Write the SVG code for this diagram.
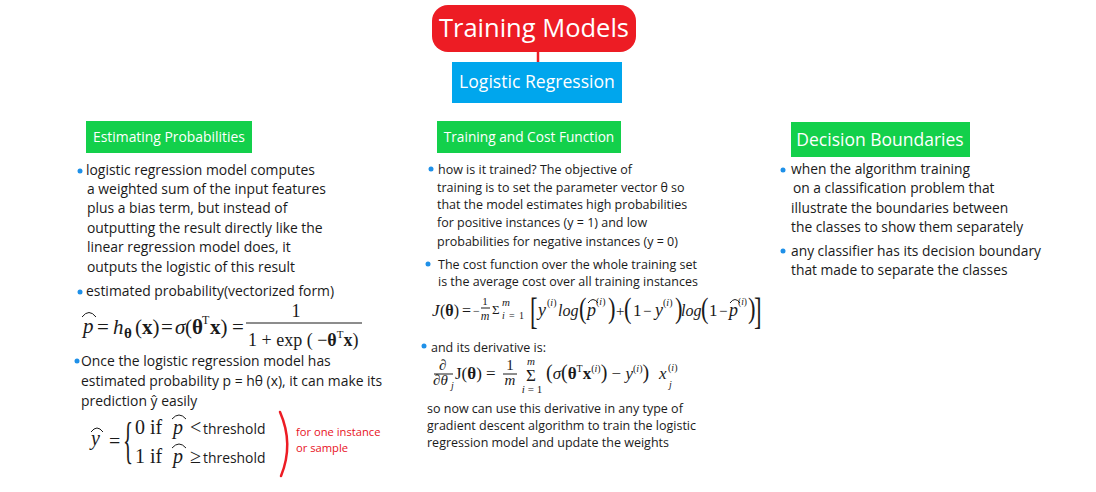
<svg xmlns="http://www.w3.org/2000/svg" width="1096" height="492" viewBox="0 0 1096 492">
<style>
.t{font-family:"Open Sans","Noto Sans",sans-serif;font-size:13.9px;fill:#1a1a1a}
.tr{font-family:"Open Sans","Noto Sans",sans-serif;font-size:13.8px;fill:#1a1a1a}
.tm{font-family:"Open Sans","Noto Sans",sans-serif;font-size:12.5px;fill:#1a1a1a}
.m{font-family:"Liberation Serif",serif;fill:#1a1a1a}
.i{font-style:italic}
.b{font-weight:bold}
.dot{fill:#1e90e8}
.hd{font-family:"Open Sans","Noto Sans",sans-serif;fill:#fff}
.hat{fill:none;stroke:#1a1a1a;stroke-width:1}
.bar{stroke:#1a1a1a;stroke-width:1}
.note{font-family:"Open Sans","Noto Sans",sans-serif;font-size:11.2px;fill:#e81123}
</style>
<rect width="1096" height="492" fill="#fff"/>
<g id="connectors">
<line x1="538" y1="50" x2="538" y2="63" stroke="#ed1c24" stroke-width="2.5"/>
</g>
<g id="root">
<rect x="432" y="5" width="204" height="47" rx="16" fill="#ed1c24"/>
<text class="hd" x="534" y="37" font-size="25.5" text-anchor="middle">Training Models</text>
</g>
<g id="logistic">
<rect x="452" y="62" width="170" height="41" fill="#00a6ed"/>
<text class="hd" x="537" y="88" font-size="17.6" text-anchor="middle">Logistic Regression</text>
</g>
<g id="estimating">
<rect x="86" y="121" width="166" height="32" fill="#13d04b"/>
<text class="hd" x="169" y="142" font-size="13.9" text-anchor="middle">Estimating Probabilities</text>
<circle class="dot" cx="80" cy="171" r="2.5"/>
<text class="t" x="86" y="175">logistic regression model computes</text>
<text class="t" x="87" y="194">a weighted sum of the input features</text>
<text class="t" x="87" y="213">plus a bias term, but instead of</text>
<text class="t" x="87" y="233">outputting the result directly like the</text>
<text class="t" x="87" y="252">linear regression model does, it</text>
<text class="t" x="87" y="272">outputs the logistic of this result</text>
<circle class="dot" cx="80" cy="292" r="2.5"/>
<text class="t" x="86" y="296">estimated probability(vectorized form)</text>
<g id="formula-prob">
<text class="m i" x="83" y="333" font-size="21">p</text>
<path class="hat" d="M82,317 Q89,308 96,317"/>
<text class="m" x="97" y="334" font-size="21">=</text>
<text class="m i" x="113" y="334" font-size="21">h</text>
<text class="m b" x="124" y="338" font-size="15">θ</text>
<text class="m" x="135" y="334" font-size="21">(<tspan class="b">x</tspan>)</text>
<text class="m" x="161" y="334" font-size="21">=</text>
<text class="m i" x="175" y="334" font-size="21">σ</text>
<text class="m" x="185" y="334" font-size="21">(<tspan class="b">θ</tspan></text>
<text class="m" x="202" y="324" font-size="12">T</text>
<text class="m" x="210" y="334" font-size="21"><tspan class="b">x</tspan>)</text>
<text class="m" x="232" y="334" font-size="21">=</text>
<line class="bar" x1="246" y1="323" x2="362" y2="323"/>
<text class="m" x="296" y="317" font-size="18" text-anchor="middle">1</text>
<text class="m" x="248" y="346" font-size="18">1 +  exp ( −<tspan class="b">θ</tspan><tspan font-size="11" dy="-8">T</tspan><tspan class="b" dy="8">x</tspan>)</text>
</g>
<circle class="dot" cx="77" cy="361" r="2.5"/>
<text class="t" x="81" y="366">Once the logistic regression model has</text>
<text class="t" x="81" y="386">estimated probability p = hθ (x), it can make its</text>
<text class="t" x="81" y="406">prediction ŷ easily</text>
<g id="formula-pred">
<text class="m i" x="91" y="445" font-size="20">y</text>
<path class="hat" d="M91,432 Q97,424 103,432"/>
<text class="m" x="109" y="448" font-size="20">=</text>
<text class="m" x="0" y="0" font-size="50" transform="translate(123,457) scale(0.42,1)">{</text>
<text class="m" x="135" y="434" font-size="20">0  if</text>
<text class="m i" x="173" y="434" font-size="20">p</text>
<path class="hat" d="M172,419 Q179,411 186,419"/>
<text class="m" x="190" y="434" font-size="20">&lt;</text>
<text class="t" x="203" y="434" font-size="14">threshold</text>
<text class="m" x="135" y="463" font-size="20">1  if</text>
<text class="m i" x="173" y="463" font-size="20">p</text>
<path class="hat" d="M172,448 Q179,440 186,448"/>
<text class="m" x="190" y="463" font-size="20">≥</text>
<text class="t" x="203" y="463" font-size="14">threshold</text>
</g>
<path d="M280,412 Q294,444 281,476" fill="none" stroke="#ed1c24" stroke-width="2.5" stroke-linecap="round"/>
<text class="note" x="296" y="436">for one instance</text>
<text class="note" x="296" y="452">or sample</text>
</g>
<g id="training">
<rect x="437" y="121" width="184" height="32" fill="#13d04b"/>
<text class="hd" x="529" y="142" font-size="13.7" text-anchor="middle">Training and Cost Function</text>
<circle class="dot" cx="431" cy="169" r="2.5"/>
<text class="tm" x="438" y="174">how is it trained? The objective of</text>
<text class="tm" x="437" y="192">training is to set the parameter vector θ so</text>
<text class="tm" x="437" y="209">that the model estimates high probabilities</text>
<text class="tm" x="437" y="227">for positive instances (y = 1) and low</text>
<text class="tm" x="437" y="246">probabilities for negative instances (y = 0)</text>
<circle class="dot" cx="428" cy="264" r="2.5"/>
<text class="tm" x="438" y="269">The cost function over the whole training set</text>
<text class="tm" x="438" y="286">is the average cost over all training instances</text>
<g id="formula-cost">
<text class="m i" x="432" y="316" font-size="17">J</text>
<text class="m" x="440" y="316" font-size="16">(<tspan class="b">θ</tspan>)</text>
<text class="m" x="462" y="316" font-size="16">=</text>
<text class="m" x="473" y="315" font-size="12">−</text>
<text class="m" x="485" y="305" font-size="11" text-anchor="middle">1</text>
<line class="bar" x1="481" y1="308" x2="490" y2="308"/>
<text class="m i" x="485" y="320" font-size="12" text-anchor="middle">m</text>
<text class="m" x="492" y="314" font-size="13">Σ</text>
<text class="m i" x="502" y="306" font-size="11">m</text>
<text class="m" y="319" font-size="10"><tspan class="i" x="502">i</tspan><tspan x="509">=</tspan><tspan x="519">1</tspan></text>
<text class="m" x="0" y="0" font-size="38" transform="translate(530,324) scale(0.6,1)">[</text>
<text class="m i" x="538" y="316" font-size="18">y</text>
<text class="m" x="547" y="306" font-size="10">(<tspan class="i">i</tspan>)</text>
<text class="m i" x="558" y="316" font-size="16">log</text>
<text class="m" x="0" y="0" font-size="30" transform="translate(579,318) scale(0.75,1)">(</text>
<text class="m i" x="587" y="316" font-size="18">p</text>
<path class="hat" d="M588,303 Q593,296 598,303"/>
<text class="m" x="596" y="305" font-size="10">(<tspan class="i">i</tspan>)</text>
<text class="m" x="0" y="0" font-size="30" transform="translate(608,318) scale(0.75,1)">)</text>
<text class="m" x="616" y="316" font-size="15">+</text>
<text class="m" x="0" y="0" font-size="30" transform="translate(624,318) scale(0.75,1)">(</text>
<text class="m" x="633" y="316" font-size="17">1</text>
<text class="m" x="643" y="316" font-size="15">−</text>
<text class="m i" x="655" y="316" font-size="18">y</text>
<text class="m" x="663" y="306" font-size="10">(<tspan class="i">i</tspan>)</text>
<text class="m" x="0" y="0" font-size="30" transform="translate(675,318) scale(0.75,1)">)</text>
<text class="m i" x="681" y="316" font-size="16">log</text>
<text class="m" x="0" y="0" font-size="30" transform="translate(701,318) scale(0.75,1)">(</text>
<text class="m" x="709" y="316" font-size="17">1</text>
<text class="m" x="719" y="316" font-size="15">−</text>
<text class="m i" x="729" y="316" font-size="18">p</text>
<path class="hat" d="M730,303 Q735,296 740,303"/>
<text class="m" x="738" y="305" font-size="9.5">(<tspan class="i">i</tspan>)</text>
<text class="m" x="0" y="0" font-size="30" transform="translate(748,318) scale(0.75,1)">)</text>
<text class="m" x="0" y="0" font-size="38" transform="translate(754,324) scale(0.6,1)">]</text>
</g>
<circle class="dot" cx="424" cy="346" r="2.5"/>
<text class="tm" x="431" y="352">and its derivative is:</text>
<g id="formula-deriv">
<text class="m i" x="439" y="370" font-size="15">∂</text>
<line class="bar" x1="434" y1="374" x2="453" y2="374"/>
<text class="m i" x="433" y="385" font-size="15">∂θ</text>
<text class="m i" x="451" y="389" font-size="10">j</text>
<text class="m" x="455" y="379" font-size="17">J(<tspan class="b">θ</tspan>) =</text>
<text class="m" x="510" y="370" font-size="15" text-anchor="middle">1</text>
<line class="bar" x1="503" y1="374" x2="517" y2="374"/>
<text class="m i" x="510" y="385" font-size="15" text-anchor="middle">m</text>
<text class="m i" x="531" y="365" font-size="11" text-anchor="middle">m</text>
<text class="m" x="531" y="381" font-size="17" text-anchor="middle">Σ</text>
<text class="m" x="532" y="393" font-size="11" text-anchor="middle"><tspan class="i">i</tspan> = 1</text>
<text class="m" x="546" y="379" font-size="17"><tspan font-size="20">(</tspan><tspan class="i">σ</tspan><tspan font-size="20">(</tspan><tspan class="b">θ</tspan><tspan font-size="10" dy="-7">T</tspan><tspan class="b" dy="7">x</tspan><tspan font-size="10" dy="-7">(<tspan class="i">i</tspan>)</tspan><tspan font-size="20" dy="7">)</tspan> − <tspan class="i">y</tspan><tspan font-size="10" dy="-7">(<tspan class="i">i</tspan>)</tspan><tspan font-size="20" dy="7">)</tspan></text>
<text class="m i" x="659" y="379" font-size="17">x</text>
<text class="m" x="668" y="371" font-size="10">(<tspan class="i">i</tspan>)</text>
<text class="m i" x="669" y="388" font-size="10">j</text>
</g>
<text class="tm" x="427" y="413">so now can use this derivative in any type of</text>
<text class="tm" x="427" y="430">gradient descent algorithm to train the logistic</text>
<text class="tm" x="427" y="447">regression model and update the weights</text>
</g>
<g id="decision">
<rect x="791" y="122" width="179" height="35" fill="#13d04b"/>
<text class="hd" x="880" y="146" font-size="17.5" text-anchor="middle">Decision Boundaries</text>
<circle class="dot" cx="783" cy="170" r="2.5"/>
<text class="tr" x="791" y="174">when the algorithm training</text>
<text class="tr" x="793" y="193">on a classification problem that</text>
<text class="tr" x="791" y="213">illustrate the boundaries between</text>
<text class="tr" x="791" y="232">the classes to show them separately</text>
<circle class="dot" cx="783" cy="251" r="2.5"/>
<text class="tr" x="791" y="256">any classifier has its decision boundary</text>
<text class="tr" x="791" y="275">that made to separate the classes</text>
</g>
</svg>
